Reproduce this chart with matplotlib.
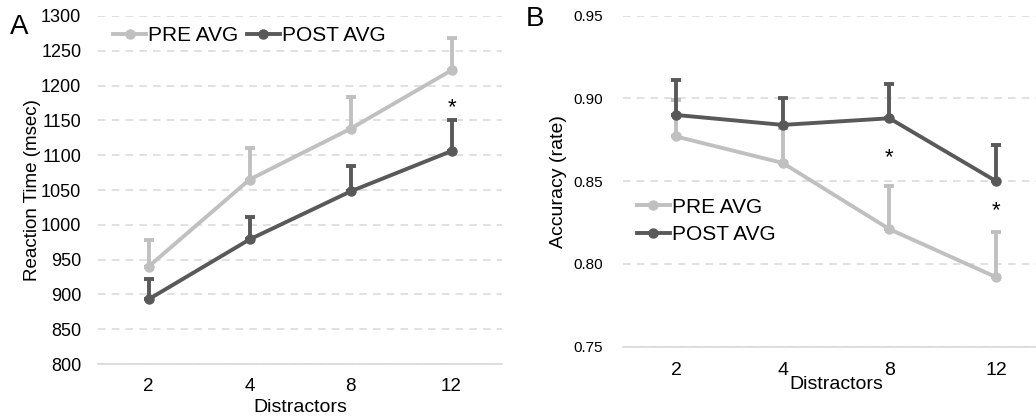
import numpy as np
import matplotlib
matplotlib.use("Agg")
import matplotlib.pyplot as plt
from matplotlib.lines import Line2D

plt.rcParams["font.family"] = ["Liberation Sans", "DejaVu Sans"]

distractors = ["2", "4", "8", "12"]

# panel A - reaction time (msec)
rt_pre = [940, 1065, 1138, 1222]
rt_pre_err = [38, 45, 45, 46]
rt_post = [893, 979, 1048, 1106]
rt_post_err = [29, 32, 37, 44]

# panel B - accuracy (rate)
acc_pre = [0.877, 0.861, 0.821, 0.792]
acc_pre_err = [0.022, 0.021, 0.026, 0.027]
acc_post = [0.890, 0.884, 0.888, 0.850]
acc_post_err = [0.021, 0.016, 0.021, 0.022]

PRE_C = "#c0c0c0"
POST_C = "#595959"
GRID_C = "#d9d9d9"


def draw(ax, pre, pre_err, post, post_err):
    x = np.arange(len(distractors))
    for vals, err, col in [(pre, pre_err, PRE_C), (post, post_err, POST_C)]:
        ax.errorbar(x, vals, yerr=[np.zeros(len(err)), err], color=col,
                    lw=2.8, marker="o", ms=6.5, capsize=3.5, capthick=2.8,
                    elinewidth=2.8)
    ax.set_xticks(x)
    ax.set_xticklabels(distractors)
    ax.set_xlim(-0.5, 3.5)
    for s in ["top", "right", "left"]:
        ax.spines[s].set_visible(False)
    ax.spines["bottom"].set_color(GRID_C)
    ax.spines["bottom"].set_linewidth(1.2)
    ax.tick_params(length=0)
    ax.yaxis.grid(True, ls=(0, (5, 4)), color=GRID_C, lw=1.1)
    ax.set_axisbelow(True)


def handles():
    return [Line2D([], [], color=PRE_C, lw=2.8, marker="o", ms=6.5, label="PRE AVG"),
            Line2D([], [], color=POST_C, lw=2.8, marker="o", ms=6.5, label="POST AVG")]


fig = plt.figure(figsize=(10.36, 4.19), dpi=100)

axA = fig.add_axes([0.0946, 0.131, 0.39, 0.831])
draw(axA, rt_pre, rt_pre_err, rt_post, rt_post_err)
axA.set_ylim(800, 1300)
axA.set_yticks(np.arange(800, 1301, 50))
axA.tick_params(axis="y", labelsize=13, pad=12)
axA.tick_params(axis="x", labelsize=13.5, pad=10)
axA.set_ylabel("Reaction Time (msec)", fontsize=13.5, labelpad=0)
axA.set_xlabel("Distractors", fontsize=14, labelpad=3)
axA.text(3, 1168, "*", ha="center", va="center", fontsize=16)
axA.legend(handles=handles(), loc="center left", bbox_to_anchor=(0.037, 0.943),
           ncol=2, frameon=False, fontsize=15, handlelength=1.6,
           handletextpad=0.1, columnspacing=0.4, borderaxespad=0, borderpad=0)
fig.text(0.01, 0.935, "A", fontsize=20, va="center")

axB = fig.add_axes([0.601, 0.1726, 0.412, 0.79])
draw(axB, acc_pre, acc_pre_err, acc_post, acc_post_err)
axB.set_ylim(0.75, 0.95)
axB.set_yticks([0.75, 0.80, 0.85, 0.90, 0.95])
axB.set_yticklabels(["0.75", "0.80", "0.85", "0.90", "0.95"])
axB.tick_params(axis="y", labelsize=11, pad=14)
axB.tick_params(axis="x", labelsize=14, pad=11)
axB.set_ylabel("Accuracy (rate)", fontsize=14, labelpad=5)
axB.set_xlabel("Distractors", fontsize=14, labelpad=-2)
axB.text(2, 0.864, "*", ha="center", va="center", fontsize=16)
axB.text(3, 0.832, "*", ha="center", va="center", fontsize=16)
axB.legend(handles=handles(), loc="center left", bbox_to_anchor=(0.033, 0.38),
           ncol=1, frameon=False, fontsize=15, handlelength=1.6,
           handletextpad=0.1, labelspacing=0.4, borderaxespad=0, borderpad=0)
fig.text(0.507, 0.955, "B", fontsize=20, va="center")

fig.savefig("out.png", dpi=100)
